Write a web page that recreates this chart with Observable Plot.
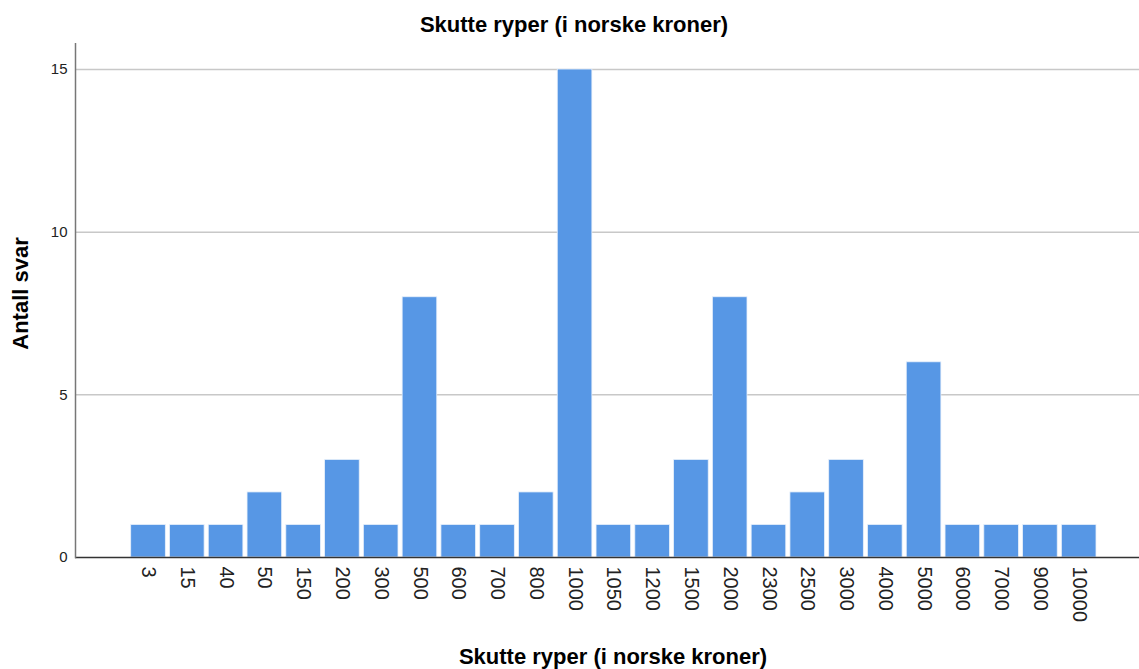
<!DOCTYPE html>
<html>
<head>
<meta charset="utf-8">
<script src="https://cdn.jsdelivr.net/npm/d3@7"></script>
<script src="https://cdn.jsdelivr.net/npm/@observablehq/plot@0.6"></script>
<style>
  html, body { margin: 0; padding: 0; background: #fff; }
  body { width: 1139px; height: 669px; position: relative; overflow: hidden;
         font-family: "Liberation Sans", Arial, sans-serif; }
  #title, #xlabel { position: absolute; left: 0; width: 1139px; text-align: center;
         font-weight: bold; font-size: 22px; color: #000; white-space: nowrap; }
  #title { top: 12px; padding-left: 9px; box-sizing: border-box; }
  #xlabel { top: 644px; padding-left: 87px; box-sizing: border-box; }
  #chart { position: absolute; left: 0; top: 43px; }
</style>
</head>
<body>
<div id="title">Skutte ryper (i norske kroner)</div>
<div id="chart"></div>
<div id="xlabel">Skutte ryper (i norske kroner)</div>
<script>
const categories = ["3","15","40","50","150","200","300","500","600","700","800","1000","1050","1200","1500","2000","2300","2500","3000","4000","5000","6000","7000","9000","10000"];
const counts = [1,1,1,2,1,3,1,8,1,1,2,15,1,1,3,8,1,2,3,1,6,1,1,1,1];
const yTicks = [0, 5, 10, 15];
const gridValues = [5, 10, 15];
const yLabel = "Antall svar";

const data = categories.map((c, i) => ({category: c, count: counts[i]}));

const chart = Plot.plot({
  width: 1139,
  height: 597,
  marginLeft: 75,
  marginRight: 0,
  marginTop: 0,
  marginBottom: 83,
  style: {fontFamily: "'Liberation Sans', Arial, sans-serif", background: "#fff", color: "#222"},
  x: {type: "band", domain: categories, range: [130.7, 1096], paddingInner: 0.107, paddingOuter: 0, round: false, label: null},
  y: {domain: [0, 15.8], label: null},
  marks: [
    Plot.ruleY(gridValues, {stroke: "#c8c8c8", strokeWidth: 1.5}),
    Plot.barY(data, {x: "category", y: "count", fill: "#5797e5", stroke: "#e8f0fb", strokeWidth: 0.8}),
    Plot.ruleY([0], {stroke: "#333", strokeWidth: 1.5}),
    Plot.frame({anchor: "left", stroke: "#777", strokeWidth: 1.5}),
    Plot.axisY({ticks: yTicks, tickSize: 0, tickPadding: 8, fontSize: 15, label: null}),
    Plot.axisX({tickSize: 0, tickPadding: 9, tickRotate: 90, fontSize: 20, label: null}),
    Plot.text([yLabel], {frameAnchor: "left", textAnchor: "middle", text: d => d, rotate: -90, dx: -55, dy: -7,
      fontSize: 22, fontWeight: "bold", fill: "#000"})
  ]
});
document.getElementById("chart").appendChild(chart);
</script>
</body>
</html>
